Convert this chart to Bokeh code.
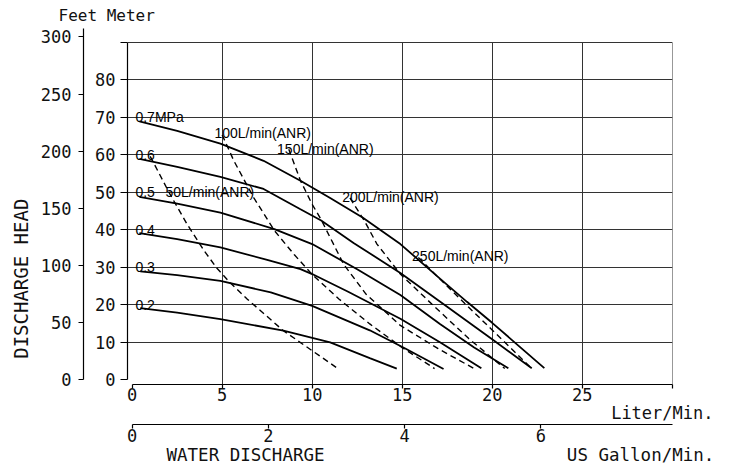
import math
from bokeh.plotting import figure
from bokeh.models import Range1d, LinearAxis, FixedTicker, Title, ColumnDataSource
from bokeh.core.properties import value
from bokeh.embed import file_html
from bokeh.resources import INLINE

# ---------------- data (flow in L/min, head in m) ----------------
flow_07 = [0.4, 2.5, 4.9, 7.3, 9.35, 11.0, 12.8, 14.9, 17.1, 18.6, 20.0, 21.2, 22.9]
head_07 = [68.9, 66.4, 63.0, 58.4, 53.1, 48.5, 43.3, 36.2, 27.0, 20.8, 15.2, 10.2, 3.1]
flow_06 = [0.4, 2.5, 4.9, 7.3, 9.35, 10.5, 12.3, 14.9, 17.5, 20.0, 22.2]
head_06 = [58.9, 56.8, 54.1, 50.9, 45.5, 42.5, 36.5, 28.5, 19.5, 10.8, 3.1]
flow_05 = [0.4, 2.5, 4.9, 7.9, 10.0, 12.5, 14.9, 17.1, 19.0, 20.9]
head_05 = [48.8, 47.0, 44.6, 40.2, 36.2, 29.5, 22.6, 14.9, 8.6, 3.1]
flow_04 = [0.4, 2.5, 4.9, 7.5, 9.35, 10.0, 12.0, 14.9, 17.1, 19.4]
head_04 = [39.1, 37.5, 35.3, 32.0, 29.5, 28.2, 23.5, 16.3, 10.0, 3.1]
flow_03 = [0.45, 2.5, 4.9, 7.7, 10.0, 13.2, 15.2, 17.3]
head_03 = [28.9, 27.9, 26.4, 23.3, 19.7, 13.2, 8.3, 2.9]
flow_02 = [0.45, 2.5, 4.9, 8.4, 11.0, 13.2, 14.7]
head_02 = [19.1, 17.9, 16.2, 13.1, 10.0, 5.8, 3.0]

air_flow_50 = [1.0, 2.1, 3.05, 4.0, 4.7, 5.46, 6.4, 8.4, 11.4]
air_head_50 = [59.6, 49.5, 41.5, 34.4, 29.8, 25.8, 21.5, 13.1, 3.1]
air_flow_100 = [5.0, 5.65, 6.75, 7.9, 9.0, 10.0, 11.5, 13.2, 15.0, 16.8]
air_head_100 = [65.3, 58.4, 48.6, 39.8, 33.4, 28.1, 21.5, 14.9, 8.6, 3.0]
air_flow_150 = [8.7, 9.35, 10.0, 10.5, 11.75, 13.0, 14.9, 17.0, 19.0]
air_head_150 = [61.5, 53.1, 46.8, 42.7, 30.8, 22.8, 14.5, 8.3, 3.0]
air_flow_200 = [12.1, 12.9, 13.6, 14.9, 16.8, 18.7, 20.7]
air_head_200 = [48.5, 42.4, 36.2, 28.2, 19.5, 11.0, 3.0]
air_flow_250 = [15.9, 17.2, 18.6, 20.0, 22.2]
air_head_250 = [32.6, 26.4, 19.8, 13.3, 3.0]

pressure_labels = ["0.7MPa", "0.6", "0.5", "0.4", "0.3", "0.2"]
pressure_label_head = [70, 60, 50, 40, 30, 20]
air_labels = ["50L/min(ANR)", "100L/min(ANR)", "150L/min(ANR)", "200L/min(ANR)", "250L/min(ANR)"]
air_label_flow = [1.85, 4.57, 8.05, 11.67, 15.55]
air_label_head = [50.0, 65.8, 61.5, 48.8, 33.0]

liter_ticks = [0, 5, 10, 15, 20, 25, 30]
gallon_ticks = [0, 2, 4, 6]
meter_ticks = [0, 10, 20, 30, 40, 50, 60, 70, 80, 90]
feet_ticks = [0, 50, 100, 150, 200, 250, 300]
grid_x_ticks = [5, 10, 15, 20, 25, 30]
grid_y_ticks = [10, 20, 30, 40, 50, 60, 70, 80, 90]

unit_title = "Feet Meter"
y_title = "DISCHARGE HEAD"
x_title = "WATER DISCHARGE"
liter_unit = "Liter/Min."
gallon_unit = "US Gallon/Min."

LPM_PER_GPM = 3.78541
M_PER_FT = 0.3048

# ---------------- figure ----------------
x0, x1 = -0.26, 30.02
y0, y1 = -1.25, 93.68
p = figure(frame_width=545, frame_height=356,
           x_range=Range1d(x0, x1), y_range=Range1d(y0, y1),
           output_backend="svg", toolbar_location=None,
           min_border_left=127, min_border_right=52,
           min_border_top=28, min_border_bottom=90)
p.outline_line_color = None
p.background_fill_color = "white"
p.border_fill_color = "white"

p.extra_x_ranges = {"gal": Range1d(x0 / LPM_PER_GPM, x1 / LPM_PER_GPM)}
p.extra_y_ranges = {"ft": Range1d(y0 / M_PER_FT, y1 / M_PER_FT)}

MONO = "DejaVu Sans Mono"
INK = "#111111"


def style_axis(ax, ticks, tick_out, standoff, overrides=None):
    ax.ticker = FixedTicker(ticks=ticks)
    ax.major_tick_in = 0
    ax.major_tick_out = tick_out
    ax.minor_tick_line_color = None
    ax.axis_line_color = "black"
    ax.axis_line_width = 1.2
    ax.major_tick_line_color = "black"
    ax.major_tick_line_width = 1.2
    ax.major_label_text_font = MONO
    ax.major_label_text_font_size = "17px"
    ax.major_label_text_color = INK
    ax.major_label_standoff = standoff
    if overrides:
        ax.major_label_overrides = overrides


meter_axis = p.left[0]
style_axis(meter_axis, meter_ticks, 7, 5, {90: ""})
meter_axis.bounds = (0, 90)
meter_axis.axis_label = " "
meter_axis.axis_label_text_font_size = "9px"
meter_axis.axis_label_standoff = -4

feet_axis = LinearAxis(y_range_name="ft", bounds=(0, 307))
style_axis(feet_axis, feet_ticks, 5, 7)
p.add_layout(feet_axis, "left")

liter_axis = p.below[0]
style_axis(liter_axis, liter_ticks, 4, -1, {30: ""})
liter_axis.bounds = (0, 30)

gallon_axis = LinearAxis(x_range_name="gal", bounds=(0, 30 / LPM_PER_GPM))
style_axis(gallon_axis, gallon_ticks, 4, 0)


def make_title(text, size, align, offset, standoff, valign):
    return Title(text=text, text_font=MONO, text_font_size=size, text_font_style="normal",
                 text_color=INK, align=align, offset=offset, standoff=standoff,
                 vertical_align=valign)


t_liter = make_title(liter_unit, "17px", "right", -41, -1.5, "top")
NB = "\u00a0"
t_bottom = make_title(x_title + NB * 23 + gallon_unit, "17.5px", "left", 39, 1, "top")
p.below = [liter_axis, t_liter, gallon_axis, t_bottom]

t_unit = make_title(unit_title, "16px", "left", -69, 7, "bottom")
p.add_layout(t_unit, "above")
t_y = make_title(y_title, "19px", "left", 25.7, 11, "bottom")
p.add_layout(t_y, "left")

# grid
p.xgrid.ticker = FixedTicker(ticks=grid_x_ticks)
p.xgrid.cross_bounds = (y0, 90)
p.xgrid.grid_line_color = "#333333"
p.xgrid.grid_line_width = 1
p.ygrid.ticker = FixedTicker(ticks=grid_y_ticks)
p.ygrid.bounds = (0, 92)
p.ygrid.grid_line_color = "#333333"
p.ygrid.grid_line_width = 1

# curves
for xs, ys in [(flow_07, head_07), (flow_06, head_06), (flow_05, head_05),
               (flow_04, head_04), (flow_03, head_03), (flow_02, head_02)]:
    p.line(xs, ys, line_color="black", line_width=1.8)

for xs, ys in [(air_flow_50, air_head_50), (air_flow_100, air_head_100),
               (air_flow_150, air_head_150), (air_flow_200, air_head_200),
               (air_flow_250, air_head_250)]:
    p.line(xs, ys, line_color="black", line_width=1.4, line_dash="6 4")

# in-plot labels
src_p = ColumnDataSource(dict(x=[0.18] * len(pressure_labels), y=pressure_label_head, t=pressure_labels))
p.text(x="x", y="y", text="t", source=src_p, text_font=value("Liberation Sans"),
       text_font_size="14px", text_baseline="alphabetic", text_align="left", text_color="black")
src_a = ColumnDataSource(dict(x=air_label_flow, y=air_label_head, t=air_labels))
p.text(x="x", y="y", text="t", source=src_a, text_font=value("Liberation Sans"),
       text_font_size="14px", text_baseline="alphabetic", text_align="left", text_color="black")

open("out.html", "w").write(file_html(p, INLINE))
